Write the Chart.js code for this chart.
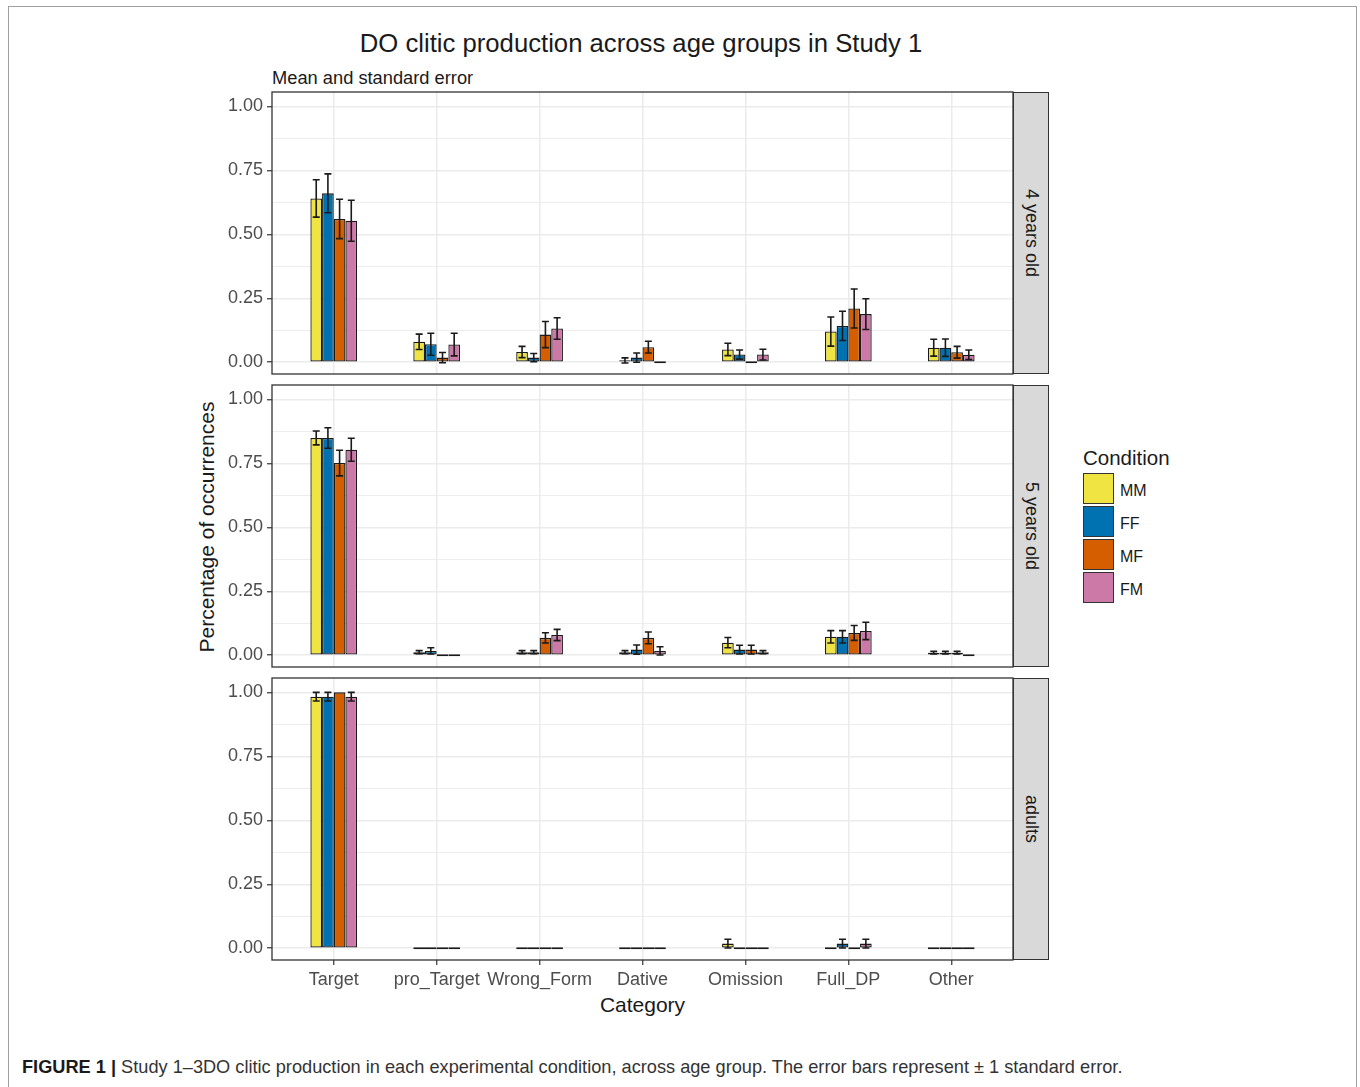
<!DOCTYPE html>
<html>
<head>
<meta charset="utf-8">
<title>DO clitic production across age groups in Study 1</title>
<script src="https://cdn.jsdelivr.net/npm/chart.js"></script>
<style>
    body {
        margin: 0;
        background: #fff;
        font-family: "Liberation Sans", Arial, sans-serif;
        color: #1a1a1a;
    }
    .frame {
        position: absolute;
        left: 8px; top: 6px;
        width: 1347px; height: 1100px;
        border: 1px solid #a0a0a0;
    }
    .abs { position: absolute; white-space: nowrap; }
    .title { left: 0; width: 1282px; top: 27px; text-align: center; font-size: 25.7px; line-height: 32px; }
    .subtitle { left: 272px; top: 66px; font-size: 18.3px; line-height: 24px; }
    .ytitle { left: 7px; top: 514px; width: 400px; height: 26px; line-height: 26px;
              text-align: center; font-size: 21px; transform: rotate(-90deg); }
    .xtitle { left: 272px; width: 741px; top: 992px; text-align: center; font-size: 21px; line-height: 26px; }
    .strip { box-sizing: border-box; left: 1013px; width: 36px; background: #d9d9d9;
             border: 1px solid #333; display: flex; align-items: center; justify-content: center; }
    .strip span { writing-mode: vertical-rl; font-size: 18px; color: #1a1a1a; }
    .legtitle { left: 1083px; top: 446px; font-size: 20.5px; line-height: 24px; }
    .key { box-sizing: border-box; left: 1083px; width: 31px; height: 31px; border: 1px solid #333; }
    .keylab { left: 1120px; font-size: 16px; line-height: 35px; }
    .caption { left: 22px; top: 1056px; font-size: 18.2px; line-height: 22px; color: #333; }
    .caption b { color: #1a1a1a; }
    canvas { position: absolute; }
</style>
</head>
<body>
<div class="frame"></div>
<div class="abs title">DO clitic production across age groups in Study 1</div>
<div class="abs subtitle">Mean and standard error</div>
<div class="abs ytitle">Percentage of occurrences</div>
<div class="abs xtitle">Category</div>
<div id="legend"></div>
<div id="panels"></div>
<div class="abs caption"><b>FIGURE 1 |</b> Study 1–3DO clitic production in each experimental condition, across age group. The error bars represent ± 1 standard error.</div>

<script>
    // categories, conditions, facets
    const categories = ['Target', 'pro_Target', 'Wrong_Form', 'Dative', 'Omission', 'Full_DP', 'Other'];
    const conditions = ['MM', 'FF', 'MF', 'FM'];
    const condColors = ['#F0E442', '#0072B2', '#D55E00', '#CC79A7'];
    const ageGroups = ['4 years old', '5 years old', 'adults'];

    const yTicks = [0, 0.25, 0.5, 0.75, 1];
    const yMinor = [0.125, 0.375, 0.625, 0.875];

    // 4 years old: means and standard errors
    const mm4 = [0.64, 0.08, 0.04, 0.007, 0.05, 0.12, 0.057];
    const ff4 = [0.66, 0.07, 0.018, 0.018, 0.03, 0.142, 0.057];
    const mf4 = [0.56, 0.018, 0.108, 0.059, 0, 0.21, 0.039];
    const fm4 = [0.553, 0.069, 0.132, 0, 0.03, 0.188, 0.029];
    const mm4se = [0.073, 0.03, 0.022, 0.01, 0.024, 0.057, 0.033];
    const ff4se = [0.076, 0.043, 0.016, 0.018, 0.018, 0.057, 0.034];
    const mf4se = [0.077, 0.02, 0.051, 0.023, 0, 0.076, 0.023];
    const fm4se = [0.08, 0.044, 0.042, 0, 0.021, 0.06, 0.019];

    // 5 years old
    const mm5 = [0.849, 0.012, 0.012, 0.012, 0.049, 0.072, 0.01];
    const ff5 = [0.849, 0.017, 0.012, 0.022, 0.022, 0.072, 0.01];
    const mf5 = [0.751, 0, 0.068, 0.068, 0.022, 0.087, 0.01];
    const fm5 = [0.803, 0, 0.079, 0.017, 0.012, 0.095, 0];
    const mm5se = [0.027, 0.006, 0.006, 0.006, 0.02, 0.024, 0.005];
    const ff5se = [0.04, 0.012, 0.006, 0.018, 0.017, 0.024, 0.005];
    const mf5se = [0.05, 0, 0.02, 0.023, 0.017, 0.029, 0.005];
    const fm5se = [0.045, 0, 0.022, 0.016, 0.006, 0.034, 0];

    // adults
    const mmA = [0.983, 0, 0, 0, 0.018, 0, 0];
    const ffA = [0.983, 0, 0, 0, 0, 0.018, 0];
    const mfA = [1.0, 0, 0, 0, 0, 0, 0];
    const fmA = [0.983, 0, 0, 0, 0, 0.018, 0];
    const mmAse = [0.017, 0, 0, 0, 0.017, 0, 0];
    const ffAse = [0.017, 0, 0, 0, 0, 0.017, 0];
    const mfAse = [0, 0, 0, 0, 0, 0, 0];
    const fmAse = [0.017, 0, 0, 0, 0, 0.017, 0];

    const panelMeans = [[mm4, ff4, mf4, fm4], [mm5, ff5, mf5, fm5], [mmA, ffA, mfA, fmA]];
    const panelSes = [[mm4se, ff4se, mf4se, fm4se], [mm5se, ff5se, mf5se, fm5se], [mmAse, ffAse, mfAse, fmAse]];

    // layout
    const FONT = '"Liberation Sans", Arial, sans-serif';
    const panelTops = [92, 385, 678];
    const panelH = 282;
    const axisW = 82;      // y axis area width (left of plot)
    const plotLeft = 272;
    const plotW = 741;
    const xAxisH = 48;
    const PAD = 6;         // bigger than the y scale's own label padding

    const isMajor = v => yTicks.some(t => Math.abs(t - v) < 1e-9);

    // error bars from the same scales as the bars
    function errorBarPlugin(ses) {
        return {
            id: 'errorBars',
            afterDatasetsDraw(chart) {
                const ctx = chart.ctx;
                const yScale = chart.scales.y;
                ctx.save();
                ctx.strokeStyle = '#1a1a1a';
                ctx.lineWidth = 1.6;
                chart.data.datasets.forEach((ds, k) => {
                    const meta = chart.getDatasetMeta(k);
                    meta.data.forEach((bar, i) => {
                        const se = ses[k][i];
                        if (!se) return;
                        const v = ds.data[i].y;
                        const yt = yScale.getPixelForValue(v + se);
                        const yb = yScale.getPixelForValue(v - se);
                        const hw = 3.5;
                        ctx.beginPath();
                        ctx.moveTo(bar.x, yt); ctx.lineTo(bar.x, yb);
                        ctx.moveTo(bar.x - hw, yt); ctx.lineTo(bar.x + hw, yt);
                        ctx.moveTo(bar.x - hw, yb); ctx.lineTo(bar.x + hw, yb);
                        ctx.stroke();
                    });
                });
                ctx.restore();
            }
        };
    }

    const panelBorder = {
        id: 'panelBorder',
        afterDraw(chart) {
            const a = chart.chartArea;
            const ctx = chart.ctx;
            ctx.save();
            ctx.strokeStyle = '#333';
            ctx.lineWidth = 1.3;
            ctx.strokeRect(a.left, a.top, a.right - a.left, a.bottom - a.top);
            ctx.restore();
        }
    };

    function makePanel(p) {
        const isBottom = p === ageGroups.length - 1;
        const canvas = document.createElement('canvas');
        const w = axisW + plotW + PAD;
        const h = PAD + panelH + (isBottom ? xAxisH : PAD);
        canvas.width = w;
        canvas.height = h;
        canvas.style.left = (plotLeft - axisW) + 'px';
        canvas.style.top = (panelTops[p] - PAD) + 'px';
        canvas.style.width = w + 'px';
        canvas.style.height = h + 'px';
        document.getElementById('panels').appendChild(canvas);

        const datasets = conditions.map((c, k) => ({
            label: c,
            data: panelMeans[p][k].map((v, i) => ({ x: i, y: v })),
            backgroundColor: condColors[k],
            borderColor: '#1a1a1a',
            borderWidth: 1.3,
            borderSkipped: false,
            minBarLength: 2,
            categoryPercentage: 0.454,
            barPercentage: 1.0
        }));

        const padBottom = isBottom ? 0 : PAD;
        const chart = new Chart(canvas, {
            type: 'bar',
            data: { datasets },
            options: {
                responsive: false,
                animation: false,
                devicePixelRatio: 1,
                layout: { padding: { top: PAD, right: PAD, bottom: padBottom, left: 0 } },
                plugins: { legend: { display: false }, tooltip: { enabled: false } },
                scales: {
                    x: {
                        type: 'linear',
                        min: -0.6,
                        max: 6.6,
                        offset: false,
                        border: { display: false },
                        grid: {
                            offset: false,
                            color: '#ebebeb',
                            lineWidth: 1.5,
                            drawTicks: isBottom,
                            tickLength: 5,
                            tickColor: '#333',
                            tickWidth: 1.2
                        },
                        afterBuildTicks: s => { s.ticks = categories.map((c, i) => ({ value: i })); },
                        ticks: {
                            display: isBottom,
                            autoSkip: false,
                            maxRotation: 0,
                            padding: 4,
                            color: '#4d4d4d',
                            font: { family: FONT, size: 18 },
                            callback: v => categories[v]
                        },
                        afterFit: s => { s.height = isBottom ? xAxisH : 0; }
                    },
                    y: {
                        min: -0.046,
                        max: 1.056,
                        border: { display: false },
                        afterBuildTicks: s => {
                            s.ticks = yTicks.concat(yMinor).sort((a, b) => a - b).map(v => ({ value: v }));
                        },
                        grid: {
                            color: '#ebebeb',
                            lineWidth: c => isMajor(c.tick.value) ? 1.5 : 0.9,
                            tickLength: 5,
                            tickColor: c => isMajor(c.tick.value) ? '#333' : 'rgba(0,0,0,0)',
                            tickWidth: 1.2
                        },
                        ticks: {
                            padding: 4,
                            color: '#4d4d4d',
                            // tiny line height keeps the scale from padding the plot area
                            font: { family: FONT, size: 18, lineHeight: 0.05 },
                            callback: v => isMajor(v) ? v.toFixed(2) : ''
                        },
                        afterFit: s => { s.width = axisW; }
                    }
                }
            },
            plugins: [errorBarPlugin(panelSes[p]), panelBorder]
        });

        // make the plot area land exactly on the panel box
        const dTop = chart.chartArea.top - PAD;
        const dBot = (PAD + panelH) - chart.chartArea.bottom;
        if (Math.abs(dTop) > 0.5 || Math.abs(dBot) > 0.5) {
            chart.options.layout.padding = { top: PAD - dTop, right: PAD, bottom: padBottom - dBot, left: 0 };
            chart.update();
        }

        const strip = document.createElement('div');
        strip.className = 'abs strip';
        strip.style.top = panelTops[p] + 'px';
        strip.style.height = panelH + 'px';
        strip.innerHTML = '<span>' + ageGroups[p] + '</span>';
        document.getElementById('panels').appendChild(strip);
    }

    function makeLegend() {
        const leg = document.getElementById('legend');
        let html = '<div class="abs legtitle">Condition</div>';
        conditions.forEach((c, k) => {
            const top = 473 + k * 33;
            html += '<div class="abs key" style="top:' + top + 'px;background:' + condColors[k] + '"></div>';
            html += '<div class="abs keylab" style="top:' + top + 'px">' + c + '</div>';
        });
        leg.innerHTML = html;
    }

    makeLegend();
    ageGroups.forEach((g, p) => makePanel(p));
</script>
</body>
</html>
